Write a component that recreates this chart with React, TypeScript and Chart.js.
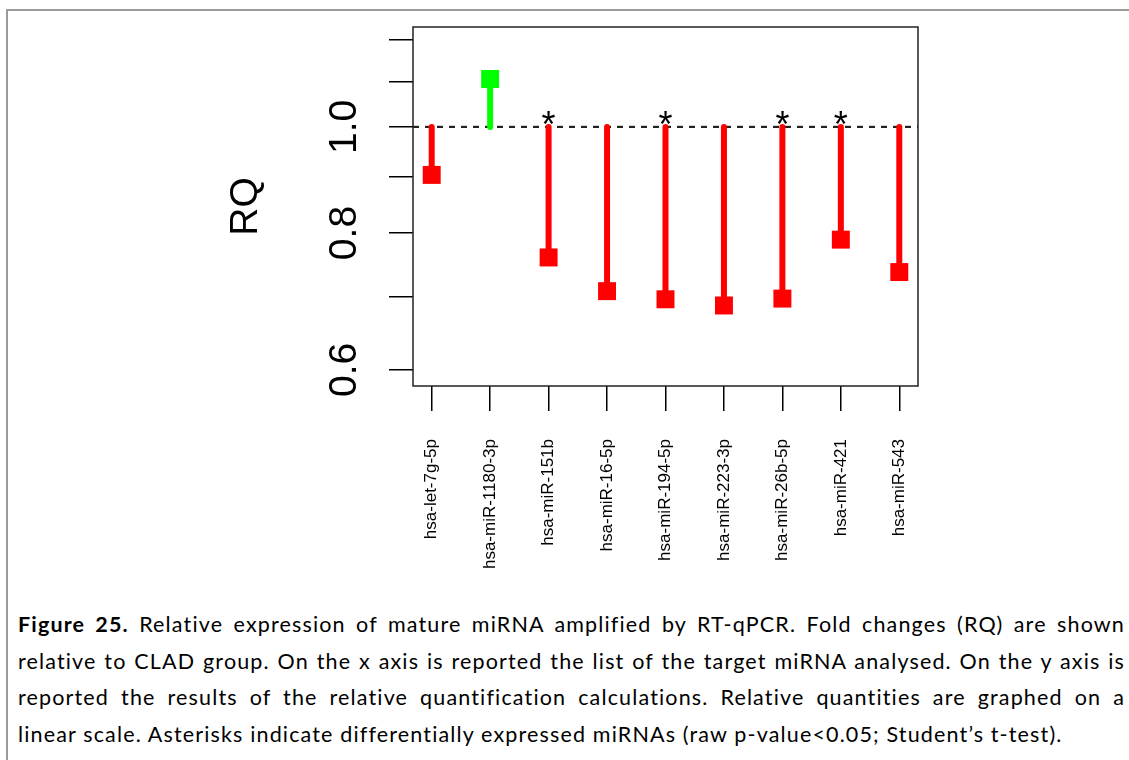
import React, { useEffect, useRef } from "react";
import { Chart, registerables } from "chart.js";

Chart.register(...registerables);

// ---------------- data ----------------
const categories = [
  "hsa-let-7g-5p",
  "hsa-miR-1180-3p",
  "hsa-miR-151b",
  "hsa-miR-16-5p",
  "hsa-miR-194-5p",
  "hsa-miR-223-3p",
  "hsa-miR-26b-5p",
  "hsa-miR-421",
  "hsa-miR-543",
];
const rqValues = [0.904, 1.106, 0.76, 0.708, 0.696, 0.687, 0.697, 0.789, 0.737];
const significant = [false, false, true, false, true, false, true, true, false];
const baseline = 1.0;
const yTickValues = [0.6, 0.7, 0.8, 0.9, 1.0, 1.1, 1.2];
const yTickLabels = ["0.6", "", "0.8", "", "1.0", "", ""];
const yLimits = [0.6, 1.2];
const yTitle = "RQ";
const captionBold = "Figure 25.";
const captionLines = [
  " Relative expression of mature miRNA amplified by RT-qPCR. Fold changes (RQ) are shown",
  "relative to CLAD group. On the x axis is reported the list of the target miRNA analysed. On the y axis is",
  "reported the results of the relative quantification calculations. Relative quantities are graphed on a",
  "linear scale. Asterisks indicate differentially expressed miRNAs (raw p-value<0.05; Student\u2019s t-test).",
];

// ---------------- styling ----------------
const UP_COLOR = "#00FF00";
const DOWN_COLOR = "#FF0000";
const FONT = "'Liberation Sans', Arial, Helvetica, sans-serif";
const CANVAS_H = 600;

// R-style 4% axis extension
const xMin = -0.04 * (categories.length - 1);
const xMax = categories.length - 1 + 0.04 * (categories.length - 1);
const lgLo = Math.log10(yLimits[0]);
const lgHi = Math.log10(yLimits[1]);
const lgD = 0.04 * (lgHi - lgLo);
const yMin = Math.pow(10, lgLo - lgD);
const yMax = Math.pow(10, lgHi + lgD);

const colorFor = (v: number) => (v >= baseline ? UP_COLOR : DOWN_COLOR);

const extrasPlugin = {
  id: "extras",
  afterDraw(chart: any) {
    const { ctx, chartArea, scales } = chart;
    const xs = scales.x;
    const ys = scales.y;
    ctx.save();
    // plot box
    ctx.strokeStyle = "#222";
    ctx.lineWidth = 1.5;
    ctx.strokeRect(chartArea.left, chartArea.top, chartArea.right - chartArea.left, chartArea.bottom - chartArea.top);
    // y tick labels (rotated, R style)
    ctx.fillStyle = "#000";
    ctx.font = `39px ${FONT}`;
    yTickValues.forEach((v, i) => {
      const lab = yTickLabels[i];
      if (!lab) return;
      const y = ys.getPixelForValue(v);
      ctx.save();
      ctx.translate(chartArea.left - 57, y);
      ctx.rotate(-Math.PI / 2);
      ctx.textAlign = "center";
      ctx.textBaseline = "alphabetic";
      ctx.fillText(lab, 0, 0);
      ctx.restore();
    });
    // asterisks
    ctx.font = `36px ${FONT}`;
    ctx.textAlign = "center";
    ctx.textBaseline = "alphabetic";
    const m = ctx.measureText("*");
    const asc = m.actualBoundingBoxAscent;
    const desc = m.actualBoundingBoxDescent;
    significant.forEach((s, i) => {
      if (!s) return;
      const x = xs.getPixelForValue(i);
      const cy = ys.getPixelForValue(baseline) - 9;
      ctx.fillText("*", x, cy - (desc - asc) / 2);
    });
    ctx.restore();
  },
};

export default function App() {
  const ref = useRef<HTMLCanvasElement>(null);

  useEffect(() => {
    if (!ref.current) return;
    const stemData: any[] = [];
    categories.forEach((_, i) => {
      stemData.push({ x: i, y: baseline });
      stemData.push({ x: i, y: rqValues[i] });
      stemData.push({ x: i + 0.5, y: null });
    });
    const markerData = categories.map((_, i) => ({ x: i, y: rqValues[i] }));

    const chart = new Chart(ref.current, {
      type: "line",
      data: {
        datasets: [
          {
            label: "RQ",
            data: markerData,
            showLine: false,
            pointStyle: "rect",
            pointRadius: 12.7,
            pointHoverRadius: 12.7,
            pointBorderWidth: 0,
            pointBackgroundColor: rqValues.map(colorFor),
            pointBorderColor: rqValues.map(colorFor),
            order: 0,
          } as any,
          {
            label: "stems",
            data: stemData,
            borderWidth: 6,
            borderCapStyle: "round",
            borderColor: DOWN_COLOR,
            pointRadius: 0,
            spanGaps: false,
            segment: {
              borderColor: (c: any) => colorFor(rqValues[Math.floor(c.p0DataIndex / 3)]),
            },
            order: 1,
          } as any,
          {
            label: "baseline",
            data: [
              { x: xMin, y: baseline },
              { x: xMax, y: baseline },
            ],
            borderColor: "#222",
            borderWidth: 2.2,
            borderDash: [6, 6],
            pointRadius: 0,
            order: 2,
          } as any,
        ],
      },
      options: {
        responsive: false,
        animation: false,
        devicePixelRatio: 1,
        layout: { padding: { left: 0, right: 211, top: 27, bottom: 0 } },
        plugins: { legend: { display: false }, tooltip: { enabled: false } },
        scales: {
          x: {
            type: "linear",
            min: xMin,
            max: xMax,
            position: "bottom",
            afterBuildTicks: (s: any) => {
              s.ticks = categories.map((_, i) => ({ value: i }));
            },
            afterFit: (s: any) => {
              s.height = CANVAS_H - 386;
            },
            ticks: {
              autoSkip: false,
              minRotation: 90,
              maxRotation: 90,
              padding: 28,
              color: "#000",
              font: { family: FONT, size: 17 },
              callback: (v: any) => categories[Math.round(Number(v))] ?? "",
            },
            grid: { drawOnChartArea: false, drawTicks: true, tickLength: 25, color: "#000", lineWidth: 1.5 },
            border: { display: false },
          },
          y: {
            type: "logarithmic",
            min: yMin,
            max: yMax,
            position: "left",
            afterBuildTicks: (s: any) => {
              s.ticks = yTickValues.map((v) => ({ value: v }));
            },
            afterFit: (s: any) => {
              s.width = 413;
            },
            ticks: { display: false },
            grid: { drawOnChartArea: false, drawTicks: true, tickLength: 24, color: "#000", lineWidth: 1.5 },
            border: { display: false },
            title: {
              display: true,
              text: yTitle,
              color: "#000",
              font: { family: FONT, size: 39, lineHeight: 1.2 },
              padding: { top: 223, bottom: 0 },
            },
          },
        },
      } as any,
      plugins: [extrasPlugin],
    });
    return () => chart.destroy();
  }, []);

  const justified: React.CSSProperties = { textAlign: "justify", textAlignLast: "justify" as any };

  return (
    <div style={{ position: "fixed", left: 0, top: 0, width: 1129, height: 760, background: "#fff", overflow: "hidden" }}>
      <div
        style={{
          position: "absolute",
          left: 6,
          top: 9,
          width: 1300,
          height: 900,
          borderTop: "2px solid #9b9b9b",
          borderLeft: "2px solid #9b9b9b",
        }}
      />
      <canvas
        ref={ref}
        width={1129}
        height={CANVAS_H}
        style={{ position: "absolute", left: 0, top: 0, width: 1129, height: CANVAS_H }}
      />
      <div
        style={{
          position: "absolute",
          left: 18,
          top: 606,
          width: 1107,
          fontFamily: "Lato, 'Open Sans', sans-serif",
          fontSize: 21.5,
          letterSpacing: "1.15px",
          lineHeight: "36.7px",
          color: "#000",
        }}
      >
        <div style={justified}>
          <b>{captionBold}</b>
          {captionLines[0]}
        </div>
        <div style={justified}>{captionLines[1]}</div>
        <div style={justified}>{captionLines[2]}</div>
        <div>{captionLines[3]}</div>
      </div>
    </div>
  );
}
